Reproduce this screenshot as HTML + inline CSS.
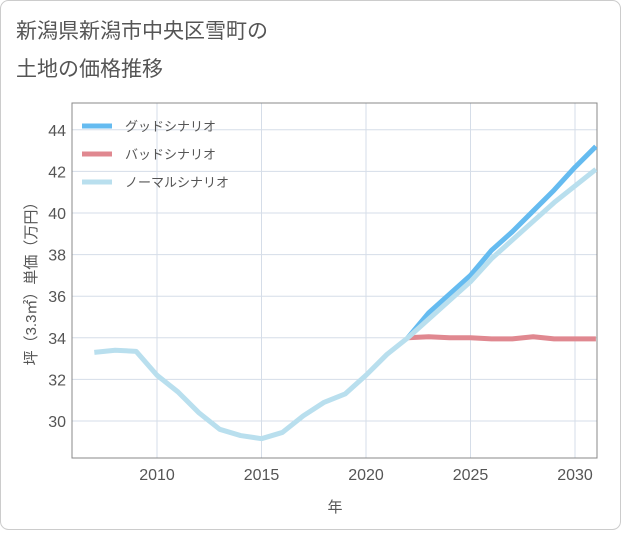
<!DOCTYPE html>
<html><head><meta charset="utf-8"><style>
body{margin:0;background:#fff;}
text{font-family:"Liberation Sans","Noto Sans CJK JP",sans-serif;}
</style></head><body>
<svg id="c" width="621" height="530" xmlns="http://www.w3.org/2000/svg">
<rect x="0.5" y="0.5" width="620" height="529" rx="8" fill="#fff" stroke="#ccc"/>
<text x="16" y="38" font-size="21" fill="#555">新潟県新潟市中央区雪町の</text>
<text x="16" y="76" font-size="21" fill="#555">土地の価格推移</text>
<g id="grid"></g>
<rect x="72" y="103" width="525" height="355" fill="none" stroke="#888" stroke-width="1"/>
<g id="series"></g>
<g id="legend"></g>
<text x="335" y="512" font-size="15" fill="#555" text-anchor="middle">年</text>
<text transform="translate(36,280) rotate(-90)" font-size="15" fill="#555" text-anchor="middle">坪（3.3㎡）単価（万円）</text>
</svg>
<script>
const years=[2007,2008,2009,2010,2011,2012,2013,2014,2015,2016,2017,2018,2019,2020,2021,2022,2023,2024,2025,2026,2027,2028,2029,2030,2031];
const normal=[33.3,33.4,33.35,32.2,31.4,30.4,29.6,29.3,29.15,29.45,30.25,30.9,31.3,32.2,33.2,34.0,34.9,35.8,36.7,37.8,38.7,39.6,40.5,41.3,42.1];
const futureYears=[2022,2023,2024,2025,2026,2027,2028,2029,2030,2031];
const good=[34.0,35.2,36.1,37.0,38.2,39.1,40.1,41.1,42.2,43.2];
const bad=[34.0,34.05,34.0,34.0,33.95,33.95,34.05,33.95,33.95,33.95];
const xTicks=[2010,2015,2020,2025,2030];
const yTicks=[30,32,34,36,38,40,42,44];
const NS='http://www.w3.org/2000/svg';
const X=y=>157+(y-2010)*20.9;
const Y=v=>421-(v-30)*20.8;
function mk(t,a,p){const e=document.createElementNS(NS,t);for(const k in a)e.setAttribute(k,a[k]);p.appendChild(e);return e;}
const g=document.getElementById('grid');
xTicks.forEach(t=>{
 const l=mk('line',{x1:X(t),x2:X(t),y1:103,y2:458,stroke:'#d5dde8'},g);
 
 
 const tx=mk('text',{x:X(t),y:480,'font-size':16,fill:'#555','text-anchor':'middle'},g);tx.textContent=t;
 
 
});
yTicks.forEach(t=>{
 const l=mk('line',{x1:72,x2:597,y1:Y(t),y2:Y(t),stroke:'#d5dde8'},g);
 
 
 const tx=mk('text',{x:66,y:Y(t)+6,'font-size':16,fill:'#555','text-anchor':'end'},g);tx.textContent=t;
 
 
});
const s=document.getElementById('series');
function line(xs,vs,col,name){
 const p=mk('polyline',{points:xs.map((x,i)=>X(x)+','+Y(vs[i])).join(' '),fill:'none',stroke:col,'stroke-width':5,'stroke-linejoin':'round'},s);
 
 
}
const cp=mk('clipPath',{id:'cl'},document.getElementById('c'));mk('rect',{x:72,y:103,width:525,height:355},cp);
s.setAttribute('clip-path','url(#cl)');
line(futureYears,good,'#65bbf0','good-scenario-line');
line(futureYears,bad,'#e08890','bad-scenario-line');
line(years,normal,'#b9dfee','normal-scenario-line');
const lg=document.getElementById('legend');
[['グッドシナリオ','#65bbf0'],['バッドシナリオ','#e08890'],['ノーマルシナリオ','#b9dfee']].forEach((e,i)=>{
 const y=126+i*28;
 const l=mk('line',{x1:82,x2:112,y1:y,y2:y,stroke:e[1],'stroke-width':5},lg);
 
 
 const t=mk('text',{x:125,y:y+5,'font-size':13,fill:'#555'},lg);t.textContent=e[0];
 
 
});
</script>
</body></html>
